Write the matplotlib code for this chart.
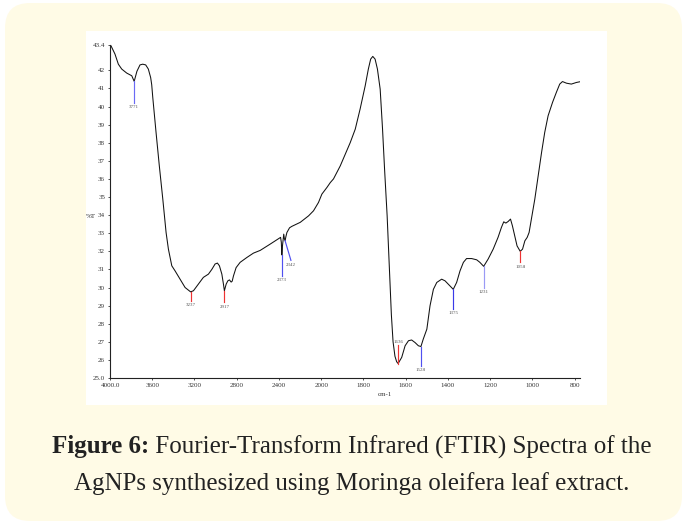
import numpy as np
import matplotlib
matplotlib.use("Agg")
import matplotlib.pyplot as plt
from matplotlib.patches import FancyBboxPatch, Rectangle

# spectrum (wavenumber, %T)
wavenumber = [4000, 3990, 3953, 3921, 3889, 3842, 3794, 3771, 3745, 3716, 3690, 3662,
              3637, 3615, 3605, 3595, 3564, 3533, 3500, 3469, 3447, 3415, 3384, 3336,
              3289, 3237, 3210, 3163, 3116, 3068, 3036, 3005, 2983, 2964, 2941, 2926,
              2917, 2900, 2884, 2869, 2853, 2843, 2831, 2806, 2768, 2704, 2642, 2578,
              2483, 2404, 2385, 2378, 2373, 2367, 2355, 2349, 2342, 2335, 2325, 2300,
              2278, 2199, 2120, 2073, 2026, 1997, 1973, 1957, 1942, 1910, 1863, 1839,
              1816, 1792, 1777, 1766, 1756, 1745, 1734, 1721, 1710, 1700, 1688, 1678,
              1668, 1660, 1651, 1643, 1636, 1619, 1603, 1587, 1572, 1556, 1540, 1528,
              1517, 1500, 1485, 1469, 1453, 1430, 1414, 1399, 1375, 1359, 1343, 1327,
              1312, 1288, 1264, 1249, 1231, 1210, 1186, 1163, 1147, 1136, 1126, 1115,
              1104, 1095, 1084, 1073, 1058, 1047, 1036, 1025, 1016, 1005, 989, 973,
              957, 942, 926, 905, 887, 871, 858, 839, 816, 792, 775]
transmittance = [43.40, 43.35, 42.90, 42.34, 42.07, 41.85, 41.70, 41.39, 41.95, 42.30, 42.34, 42.30,
                 42.07, 41.60, 41.20, 40.50, 38.57, 36.72, 34.88, 33.04, 32.12, 31.20, 30.92, 30.46,
                 30.00, 29.76, 29.82, 30.19, 30.56, 30.74, 31.00, 31.30, 31.35, 31.20, 30.74, 30.19,
                 29.82, 30.19, 30.37, 30.42, 30.30, 30.35, 30.64, 31.10, 31.39, 31.66, 31.90, 32.05,
                 32.40, 32.70, 32.77, 32.50, 31.80, 32.30, 32.95, 32.70, 32.58, 32.80, 33.04, 33.30,
                 33.38, 33.60, 33.96, 34.24, 34.70, 35.16, 35.53, 35.80, 36.00, 36.72, 38.00, 38.75,
                 39.86, 41.14, 42.07, 42.62, 42.77, 42.62, 42.07, 40.96, 38.80, 36.50, 33.96, 31.20,
                 28.50, 27.00, 26.20, 25.90, 25.80, 26.14, 26.78, 27.06, 27.10, 26.96, 26.78, 26.74,
                 27.15, 27.70, 28.99, 29.90, 30.28, 30.46, 30.37, 30.19, 29.90, 30.28, 30.92, 31.39,
                 31.60, 31.60, 31.53, 31.39, 31.17, 31.57, 32.12, 32.77, 33.32, 33.63, 33.56, 33.65,
                 33.78, 33.41, 32.86, 32.30, 32.00, 32.12, 32.58, 32.77, 33.04, 33.78, 34.88, 36.17,
                 37.46, 38.57, 39.49, 40.23, 40.78, 41.24, 41.38, 41.29, 41.24, 41.33, 41.37]

# peak markers: position, %T at curve, end of marker line, colour
peak_labels = ["3771", "3237", "2917", "2373", "2342", "1636", "1528", "1375", "1231", "1058"]
peak_wn = [3771, 3237, 2917, 2373, 2342, 1636, 1528, 1375, 1231, 1058]
peak_T = [41.39, 29.76, 29.82, 31.80, 32.58, 25.80, 26.74, 29.90, 31.17, 32.00]
peak_end_wn = [3771, 3237, 2917, 2373, 2287, 1636, 1528, 1375, 1231, 1058]
peak_end_T = [40.19, 29.26, 29.18, 30.65, 31.50, 26.83, 25.65, 28.80, 30.00, 31.39]
peak_colors = ["#6a6af5", "#ee3333", "#ee3333", "#5050f0", "#5050f0", "#ee3333",
               "#5050f0", "#3a3ae8", "#9a9af5", "#ee3333"]

x_ticks = [4000, 3600, 3200, 2800, 2400, 2000, 1800, 1600, 1400, 1200, 1000, 800]
x_tick_labels = ["4000.0", "3600", "3200", "2800", "2400", "2000", "1800", "1600",
                 "1400", "1200", "1000", "800"]
y_ticks = [25, 26, 27, 28, 29, 30, 31, 32, 33, 34, 35, 36, 37, 38, 39, 40, 41, 42, 43.4]
y_tick_labels = ["25.0"] + [str(v) for v in y_ticks[1:-1]] + ["43.4"]


def fwd(w):
    # scale doubles below 2000 cm-1, like the instrument printout
    w = np.asarray(w, dtype=float)
    return np.where(w >= 2000, w, 2 * w - 2000)


def inv(u):
    u = np.asarray(u, dtype=float)
    return np.where(u >= 2000, u, (u + 2000) / 2)


fig = plt.figure(figsize=(6.87, 5.25), dpi=100)
fig.patch.set_facecolor("white")

# cream panel and white picture area, behind the axes
panel = FancyBboxPatch((0.30, 0.29), 6.27, 4.68, boxstyle="round,pad=0.25",
                       transform=fig.dpi_scale_trans, facecolor="#fffbe6",
                       edgecolor="none", zorder=-2)
fig.patches.append(panel)
fig.patches.append(Rectangle((0.86, 1.20), 5.21, 3.74, transform=fig.dpi_scale_trans,
                             facecolor="white", edgecolor="none", zorder=-1))

ax = fig.add_axes([110 / 687, 1 - 378 / 525, 470 / 687, (378 - 45) / 525])
ax.set_zorder(2)
ax.set_facecolor("none")
ax.set_xscale("function", functions=(fwd, inv))
ax.plot(wavenumber, transmittance, color="#111111", lw=0.75)

for lab, w, t, we, te, c in zip(peak_labels, peak_wn, peak_T, peak_end_wn, peak_end_T, peak_colors):
    ax.plot([w, we], [t, te], color=c, lw=0.85)
    if te > t:
        ax.text(we, te + 0.05, lab, ha="center", va="bottom", fontsize=3.6,
                family="Liberation Serif", color="#555555")
    else:
        ax.text(we, te - 0.12, lab, ha="center", va="top", fontsize=3.6,
                family="Liberation Serif", color="#555555")

ax.set_xlim(4000, 775)
ax.set_ylim(25, 43.4)
ax.set_xticks(x_ticks)
ax.set_xticklabels(x_tick_labels)
ax.set_yticks(y_ticks)
ax.set_yticklabels(y_tick_labels)
ax.tick_params(labelsize=5, length=1.5, width=0.6, colors="#333333", pad=2)
for lbl in ax.get_xticklabels() + ax.get_yticklabels():
    lbl.set_family("Liberation Serif")
for s in ["top", "right"]:
    ax.spines[s].set_visible(False)
for s in ["left", "bottom"]:
    ax.spines[s].set_linewidth(0.8)
    ax.spines[s].set_color("#222222")

fig.text(91 / 687, 1 - 216 / 525, "%T", fontsize=5, color="#333333", ha="center", va="center",
         family="Liberation Serif")
fig.text(385 / 687, 1 - 395 / 525, "cm-1", fontsize=5, color="#333333", ha="center", va="center",
         family="Liberation Serif")

# caption: bold lead-in followed by regular text
cap_size = 18
cx = 352
r = fig.canvas.get_renderer()
t1 = fig.text(0, 1 - 447 / 525, "Figure 6:", fontsize=cap_size, weight="bold",
              family="Liberation Serif", color="#222222", va="center")
t2 = fig.text(0, 1 - 447 / 525, " Fourier-Transform Infrared (FTIR) Spectra of the",
              fontsize=cap_size, family="Liberation Serif", color="#222222", va="center")
w1 = t1.get_window_extent(r).width
w2 = t2.get_window_extent(r).width
x0 = cx - (w1 + w2) / 2
t1.set_x(x0 / 687)
t2.set_x((x0 + w1) / 687)
fig.text(cx / 687, 1 - 484 / 525, "AgNPs synthesized using Moringa oleifera leaf extract.",
         fontsize=cap_size, family="Liberation Serif", color="#222222", ha="center", va="center")

fig.savefig("out.png", dpi=100)
